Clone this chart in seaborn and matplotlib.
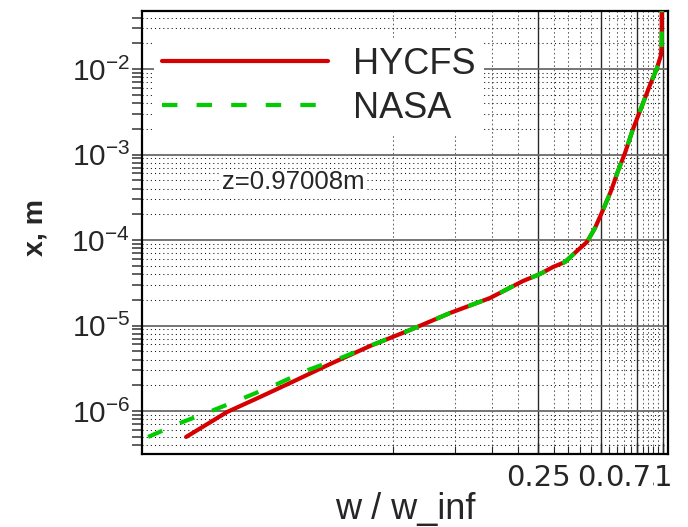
import numpy as np
import pandas as pd
import matplotlib
matplotlib.use("Agg")
import matplotlib.pyplot as plt
import matplotlib.ticker as mticker
import seaborn as sns

# Velocity profile across the boundary layer at z = 0.97008 m
hycfs_w = [0.00504, 0.00794, 0.01145, 0.01597, 0.02489, 0.03878, 0.06044,
           0.09419, 0.1468, 0.2117, 0.2556, 0.2953, 0.3373, 0.3896, 0.4304,
           0.4704, 0.5140, 0.5617, 0.6070, 0.6561, 0.7170, 0.7748, 0.8659,
           0.9357, 0.9781, 0.9857, 0.9857]
hycfs_x = [4.97e-7, 9.73e-7, 1.459e-6, 2.126e-6, 3.545e-6, 5.756e-6, 8.86e-6,
           1.400e-5, 2.097e-5, 3.316e-5, 4.003e-5, 4.834e-5, 5.53e-5, 7.64e-5,
           9.48e-5, 1.381e-4, 2.243e-4, 3.741e-4, 6.412e-4, 1.041e-3, 1.987e-3,
           3.228e-3, 6.50e-3, 1.027e-2, 1.458e-2, 2.0e-2, 5.0e-2]

nasa_w = [0.003306, 0.004714, 0.006723, 0.009482, 0.01352, 0.01950, 0.02780,
          0.03966, 0.06044, 0.09419, 0.1468, 0.2117, 0.2556, 0.2953, 0.3373,
          0.3896, 0.4304, 0.4704, 0.5140, 0.5617, 0.6070, 0.6561, 0.7170,
          0.7748, 0.8659, 0.9357, 0.9781, 0.9857, 0.9857]
nasa_x = [4.97e-7, 7.24e-7, 1.008e-6, 1.408e-6, 2.014e-6, 3.017e-6, 4.134e-6,
          5.913e-6, 8.86e-6, 1.400e-5, 2.097e-5, 3.316e-5, 4.003e-5, 4.834e-5,
          5.53e-5, 7.64e-5, 9.48e-5, 1.381e-4, 2.243e-4, 3.741e-4, 6.412e-4,
          1.041e-3, 1.987e-3, 3.228e-3, 6.50e-3, 1.027e-2, 1.458e-2, 2.0e-2,
          5.0e-2]

series_names = ["HYCFS", "NASA"]
x_major_ticks = [0.25, 0.5, 0.75, 1.0]
x_major_labels = ["0.25", "0.5", "0.75", "1"]
x_minor_ticks = [0.05, 0.10, 0.15, 0.20, 0.30, 0.35, 0.40, 0.45, 0.55, 0.60,
                 0.65, 0.70, 0.80, 0.85, 0.90, 0.95]
station_label = "z=0.97008m"

sns.set_style("ticks")
plt.rcParams["font.family"] = ["Liberation Sans", "DejaVu Sans"]
plt.rcParams["mathtext.fontset"] = "custom"
plt.rcParams["mathtext.rm"] = "Liberation Sans"
plt.rcParams["mathtext.default"] = "regular"

fig = plt.figure(figsize=(6.88, 5.27), dpi=100)
ax = fig.add_axes([0.2064, 0.1385, 0.7645, 0.8406])

red = "#D60000"
green = "#00CC00"

sns.lineplot(x=hycfs_w, y=hycfs_x, sort=False, estimator=None, color=red,
             lw=3.0, label=series_names[0], ax=ax, zorder=3)
sns.lineplot(x=nasa_w, y=nasa_x, sort=False, estimator=None, color=green,
             lw=3.0, linestyle=(0, (3.7, 4.6)), label=series_names[1], ax=ax,
             zorder=4)

ax.set_xscale("log")
ax.set_yscale("log")
ax.set_xlim(0.00309, 1.057)
ax.set_ylim(3.14e-7, 0.0477)

# x axis: custom major/minor positions on the log scale
ax.xaxis.set_major_locator(mticker.FixedLocator(x_major_ticks))
ax.xaxis.set_major_formatter(mticker.FixedFormatter(x_major_labels))
ax.xaxis.set_minor_locator(mticker.FixedLocator(x_minor_ticks))
ax.xaxis.set_minor_formatter(mticker.NullFormatter())

# y axis: decades with 2..9 subdivisions
ax.yaxis.set_major_locator(mticker.LogLocator(base=10, numticks=20))
ax.yaxis.set_minor_locator(mticker.LogLocator(base=10, subs=np.arange(2, 10), numticks=20))
ax.yaxis.set_minor_formatter(mticker.NullFormatter())

# grid
ax.grid(False)
ax.yaxis.grid(True, which="major", color="#6a6a6a", lw=1.3, ls="-")
ax.xaxis.grid(True, which="major", color="#2a2a2a", lw=1.0, ls="-")
ax.yaxis.grid(True, which="minor", color="#111111", lw=0.75, ls=(0, (1, 3)))
ax.xaxis.grid(True, which="minor", color="#666666", lw=0.75, ls=(0, (1.6, 2.4)))
ax.set_axisbelow(True)

ax.tick_params(axis="y", which="both", direction="out", length=7, width=1.2,
               color="#444444", labelsize=21.5, pad=1.5)
ax.tick_params(axis="x", which="major", direction="in", length=8, width=1.0,
               labelsize=21, pad=7)
ax.tick_params(axis="x", which="minor", direction="in", length=6, width=0.8)

for side in ["left", "right", "top", "bottom"]:
    ax.spines[side].set_color("black")
    ax.spines[side].set_linewidth(1.6)
    ax.spines[side].set_visible(True)

ax.set_xlabel("w / w_inf", fontsize=26)
ax.xaxis.set_label_coords(0.5, -0.085)
ax.set_ylabel("x, m", fontsize=20.5, fontweight="bold")
ax.yaxis.set_label_coords(-0.178, 0.512)

ax.text(0.152, 0.614, station_label, transform=ax.transAxes, fontsize=18.5,
        ha="left", va="center", zorder=5,
        bbox=dict(facecolor="white", edgecolor="none", pad=0.5))

leg = ax.legend(loc="upper left", bbox_to_anchor=(0.023, 0.937),
                borderaxespad=0, borderpad=0.22, frameon=True, fancybox=False,
                facecolor="white", edgecolor="none", framealpha=1,
                handlelength=4.6, handletextpad=0.7, labelspacing=0.25,
                fontsize=26)
leg.set_zorder(6)

# tick labels: wide sans glyphs on opaque white, later labels drawn over earlier ones
fig.canvas.draw()
for tick in ax.xaxis.get_major_ticks():
    tick.label1.set_fontfamily(["DejaVu Sans"])
    tick.label1.set_bbox(dict(facecolor="white", edgecolor="none", pad=0))

fig.savefig("out.png", dpi=100)
